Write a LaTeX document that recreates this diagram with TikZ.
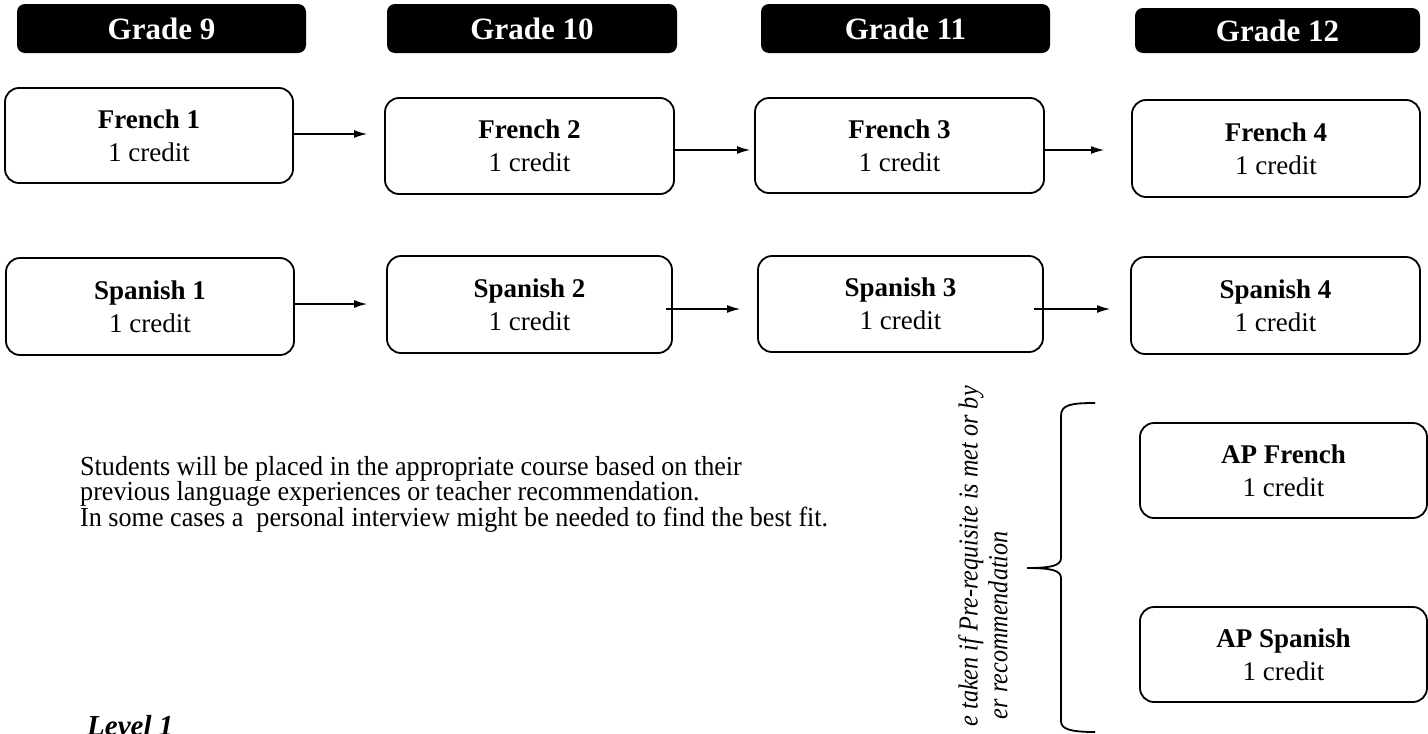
\documentclass[tikz,border=0pt]{standalone}
\usepackage{fontspec}
\setmainfont{Liberation Serif}[BoldFont={Liberation Serif Bold},ItalicFont={Liberation Serif Italic},BoldItalicFont={Liberation Serif Bold Italic}]
\newfontfamily\tnr{Liberation Serif}
\newfontfamily\tnrn{Liberation Serif}[FakeStretch=0.95]
\newfontfamily\tnritn{Liberation Serif Italic}[FakeStretch=0.88]
\newfontfamily\tnrb{Liberation Serif Bold}
\newfontfamily\tnrbi{Liberation Serif Bold Italic}
\usetikzlibrary{arrows.meta}
\begin{document}
\begin{tikzpicture}[x=1pt,y=-1pt,
  hdr/.style={fill=black, rounded corners=8pt, text=white, inner sep=0,
    font=\fontsize{31}{31}\selectfont\tnrb},
  course/.style={draw, line width=1.8pt, rounded corners=14pt, align=center, inner sep=0,
    font=\fontsize{27}{33}\selectfont\tnr},
  arr/.style={-{Latex[length=13pt,width=8pt]}, line width=1.2pt},
  plain/.style={inner sep=0, anchor=base west, font=\fontsize{27.5}{27.5}\selectfont\tnrn},
  sidenote/.style={rotate=90, anchor=east, inner sep=0, font=\fontsize{27.5}{27.5}\selectfont\tnritn}]
\useasboundingbox (0,0) rectangle (1428,734);
\clip (0,0) rectangle (1428,734);
\fill[white] (0,0) rectangle (1428,734);
% headers
\node[hdr, minimum width=289, minimum height=49] (h9)  at (161.5,28.5) {Grade 9};
\node[hdr, minimum width=290, minimum height=49] (h10) at (532,28.5)   {Grade 10};
\node[hdr, minimum width=289, minimum height=49] (h11) at (905.5,28.5) {Grade 11};
\node[hdr, minimum width=285, minimum height=45] (h12) at (1277.5,30.5) {Grade 12};
% French
\node[course, minimum width=288, minimum height=95] (f1) at (149,135.5)  {{\tnrb French 1}\\1 credit};
\node[course, minimum width=289, minimum height=96] (f2) at (529.5,146)  {{\tnrb French 2}\\1 credit};
\node[course, minimum width=289, minimum height=95] (f3) at (899.5,145.5) {{\tnrb French 3}\\1 credit};
\node[course, minimum width=288, minimum height=97] (f4) at (1276,148.5) {{\tnrb French 4}\\1 credit};
% Spanish
\node[course, minimum width=288, minimum height=97] (s1) at (150,306.5)   {{\tnrb Spanish 1}\\1 credit};
\node[course, minimum width=285, minimum height=97] (s2) at (529.5,304.5) {{\tnrb Spanish 2}\\1 credit};
\node[course, minimum width=285, minimum height=96] (s3) at (900.5,304)   {{\tnrb Spanish 3}\\1 credit};
\node[course, minimum width=289, minimum height=97] (s4) at (1275.5,305.5) {{\tnrb Spanish 4}\\1 credit};
% AP
\node[course, minimum width=287, minimum height=95] (apf) at (1283.5,470.5) {{\tnrb AP French}\\1 credit};
\node[course, minimum width=287, minimum height=95] (aps) at (1283.5,654.5) {{\tnrb AP Spanish}\\1 credit};
% arrows
\coordinate (e12) at (367,134);
\coordinate (e23) at (750,150);
\coordinate (e34) at (1104,150);
\coordinate (g12) at (367,304);
\coordinate (g23) at (740,309);
\coordinate (g34) at (1110,309);
\draw[arr] (f1.east |- e12) -- (e12);
\draw[arr] (f2.east |- e23) -- (e23);
\draw[arr] (f3.east |- e34) -- (e34);
\draw[arr] (s1.east |- g12) -- (g12);
\draw[arr] ([xshift=-7pt]s2.east |- g23) -- (g23);
\draw[arr] ([xshift=-10pt]s3.east |- g34) -- (g34);
% brace
\draw[line width=1.8pt] (1095,403) .. controls (1070,403) and (1061,405) .. (1061,416)
  -- (1061,558) .. controls (1061,566) and (1050,568) .. (1027,568)
  .. controls (1050,568) and (1061,570) .. (1061,578)
  -- (1061,721) .. controls (1061,729) and (1070,732) .. (1095,732);
% side note
\node[sidenote] (n1) at (971,386) {e taken if Pre-requisite is met or by};
\node[sidenote] (n2) at (998,531) {er recommendation};
% info text
\node[plain] (t1) at (80,475) {Students will be placed in the appropriate course based on their};
\node[plain] (t2) at (80,500.5) {previous language experiences or teacher recommendation.};
\node[plain] (t3) at (80,526) {In some cases a\ \ personal interview might be needed to find the best fit.};
% level
\node[inner sep=0, anchor=base west, font=\fontsize{29}{29}\selectfont\tnrbi] (lvl) at (87,735) {Level 1};
\end{tikzpicture}
\end{document}
